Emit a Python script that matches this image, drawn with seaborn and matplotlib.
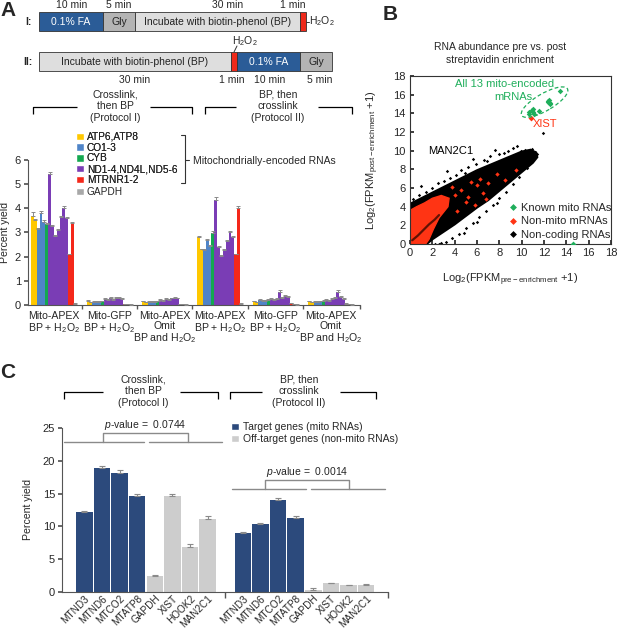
import matplotlib
matplotlib.use("Agg")
import numpy as np
import pandas as pd
import matplotlib.pyplot as plt
import seaborn as sns
from matplotlib.patches import Rectangle, Ellipse, Patch
from matplotlib.lines import Line2D

# ======================= DATA =======================
# ---- Panel A: percent yield per mito RNA, six conditions ----
a_rnas = ["ATP6", "ATP8", "CO1", "CO2", "CO3", "CYB", "ND1", "ND2", "ND3", "ND4",
          "ND4L", "ND5", "ND6", "MTRNR1", "MTRNR2", "GAPDH"]
a_families = ["ATP6,ATP8", "ATP6,ATP8", "CO1-3", "CO1-3", "CO1-3", "CYB"] + \
             ["ND1-4,ND4L,ND5-6"] * 7 + ["MTRNR1-2", "MTRNR1-2", "GAPDH"]
a_family_order = ["ATP6,ATP8", "CO1-3", "CYB", "ND1-4,ND4L,ND5-6", "MTRNR1-2", "GAPDH"]
a_conditions = ["Mito-APEX\nBP + H$_2$O$_2$", "Mito-GFP\nBP + H$_2$O$_2$",
                "Mito-APEX\nOmit\nBP and H$_2$O$_2$",
                "Mito-APEX\nBP + H$_2$O$_2$", "Mito-GFP\nBP + H$_2$O$_2$",
                "Mito-APEX\nOmit\nBP and H$_2$O$_2$"]
a_apex_I = [3.68, 3.50, 3.15, 3.80, 3.45, 3.35, 5.40, 3.28, 2.85, 3.10, 3.65, 4.00, 3.60, 2.10, 3.40, 0.05]
a_apex_I_err = [0.15, 0.04, 0.04, 0.07, 0.05, 0.05, 0.10, 0.03, 0.04, 0.06, 0.05, 0.08, 0.05, 0.02, 0.05, 0.02]
a_gfp_I = [0.16, 0.12, 0.14, 0.14, 0.14, 0.15, 0.26, 0.20, 0.30, 0.22, 0.28, 0.28, 0.24, 0.05, 0.04, 0.02]
a_gfp_I_err = [0.03, 0.02, 0.02, 0.02, 0.02, 0.03, 0.03, 0.03, 0.05, 0.03, 0.05, 0.04, 0.03, 0.01, 0.01, 0.01]
a_omit_I = [0.15, 0.12, 0.14, 0.13, 0.14, 0.15, 0.22, 0.18, 0.24, 0.20, 0.27, 0.30, 0.28, 0.04, 0.03, 0.02]
a_omit_I_err = [0.03, 0.02, 0.02, 0.02, 0.02, 0.02, 0.03, 0.02, 0.03, 0.03, 0.04, 0.04, 0.03, 0.01, 0.01, 0.01]
a_apex_II = [2.80, 2.30, 2.28, 2.70, 2.44, 2.97, 4.35, 2.41, 2.03, 2.28, 2.65, 3.00, 2.80, 2.11, 4.00, 0.05]
a_apex_II_err = [0.05, 0.02, 0.02, 0.05, 0.04, 0.08, 0.10, 0.02, 0.02, 0.03, 0.05, 0.06, 0.05, 0.02, 0.08, 0.02]
a_gfp_II = [0.15, 0.12, 0.20, 0.16, 0.18, 0.20, 0.24, 0.20, 0.26, 0.55, 0.30, 0.36, 0.32, 0.08, 0.05, 0.02]
a_gfp_II_err = [0.03, 0.02, 0.05, 0.03, 0.03, 0.04, 0.04, 0.03, 0.05, 0.07, 0.04, 0.07, 0.05, 0.02, 0.01, 0.01]
a_omit_II = [0.15, 0.12, 0.14, 0.13, 0.15, 0.18, 0.20, 0.16, 0.25, 0.30, 0.55, 0.32, 0.26, 0.06, 0.04, 0.02]
a_omit_II_err = [0.03, 0.02, 0.02, 0.02, 0.03, 0.03, 0.03, 0.03, 0.04, 0.05, 0.08, 0.05, 0.04, 0.01, 0.01, 0.01]
a_yticks = [0, 1, 2, 3, 4, 5, 6]

# ---- Panel B: scatter (log2 FPKM pre vs post enrichment) ----
b_mito_x = [13.45, 12.45, 12.35, 12.55, 12.50, 11.05, 10.95, 11.55, 10.70, 11.10, 10.65, 11.00, 12.40]
b_mito_y = [16.35, 15.45, 15.30, 15.15, 15.00, 14.50, 14.35, 14.25, 13.95, 13.95, 14.10, 14.15, 15.25]
b_mito_other_x = [14.6]
b_mito_other_y = [0.05]
b_xist_x = [10.85]
b_xist_y = [13.5]
# outline of the dense non-coding (black) cloud
b_cloud_x = [0.0, 0.0, 1.0, 2.0, 3.0, 4.0, 5.0, 6.0, 7.0, 8.0, 9.0, 10.0, 10.8, 11.3,
             11.4, 11.0, 10.0, 9.0, 8.0, 7.0, 6.0, 5.0, 4.0, 3.0, 2.0, 1.5]
b_cloud_y = [0.0, 4.3, 4.9, 5.5, 6.1, 6.7, 7.3, 7.9, 8.4, 8.9, 9.4, 9.9, 10.1, 9.8,
             9.3, 8.7, 7.7, 6.7, 5.7, 4.7, 3.9, 3.0, 2.1, 1.3, 0.5, 0.0]
# outline of the dense non-mito mRNA (red) cloud
b_red_x = [0.0, 0.0, 0.6, 1.3, 2.0, 2.8, 3.5, 3.4, 2.6, 2.1, 1.7, 1.4]
b_red_y = [0.0, 3.6, 4.0, 4.4, 4.9, 5.2, 4.9, 4.0, 2.8, 1.6, 0.5, 0.0]
# darker streak of non-coding RNAs through the red cloud
b_streak_x = [0.2, 0.7, 1.2, 1.7, 2.2, 2.6]
b_streak_y = [0.4, 0.9, 1.5, 2.1, 2.6, 3.1]
# individual non-coding points along the cloud edges
b_nc_x = [10.9, 10.3, 9.6, 9.2, 8.8, 11.2, 11.4, 11.1, 10.6, 8.0, 7.2, 6.6, 5.9, 5.2, 4.6, 4.1, 3.6,
          3.0, 2.5, 2.0, 1.4, 0.8, 0.3, 1.0, 3.3, 5.6, 7.6, 10.5, 9.8, 9.2, 8.6, 8.0, 7.4, 6.8,
          6.2, 5.6, 5.0, 4.4, 3.8, 3.2, 2.6, 7.8, 6.0, 4.8, 11.9, 9.9, 8.4, 6.9, 4.9, 2.8, 2.2]
b_nc_y = [10.2, 10.1, 10.5, 10.3, 10.0, 9.9, 9.6, 9.4, 9.7, 9.6, 9.4, 9.0, 8.6, 8.3, 7.9, 7.4, 7.1,
          6.8, 6.5, 6.0, 5.6, 5.2, 4.8, 6.2, 7.8, 9.1, 10.1, 8.1, 7.2, 6.4, 5.6, 4.9, 4.2, 3.5,
          2.9, 2.3, 1.7, 1.1, 0.6, 0.2, 0.05, 4.4, 2.4, 1.2, 11.9, 10.0, 9.7, 8.9, 7.6, 0.1, 0.0]
# individual non-mito mRNA points inside the black cloud
b_nm_x = [5.2, 6.0, 5.8, 6.5, 7.0, 4.6, 6.8, 5.5, 7.8, 4.2, 9.5, 3.8, 8.5, 5.0, 6.3, 4.0]
b_nm_y = [5.0, 6.3, 4.2, 5.5, 6.5, 5.8, 4.8, 6.6, 7.5, 3.5, 7.9, 6.1, 6.9, 4.5, 7.0, 5.2]
b_ticks = [0, 2, 4, 6, 8, 10, 12, 14, 16, 18]

# ---- Panel C: percent yield, target vs off-target genes ----
c_genes = ["MTND3", "MTND6", "MTCO2", "MTATP8", "GAPDH", "XIST", "HOOK2", "MAN2C1"]
c_kind = ["Target genes (mito RNAs)"] * 4 + ["Off-target genes (non-mito RNAs)"] * 4
c_protocol_I = [12.2, 18.9, 18.1, 14.6, 2.5, 14.7, 6.8, 11.2]
c_protocol_I_err = [0.15, 0.25, 0.55, 0.30, 0.15, 0.25, 0.50, 0.45]
c_protocol_II = [9.0, 10.3, 14.1, 11.3, 0.35, 1.3, 1.05, 1.1]
c_protocol_II_err = [0.08, 0.20, 0.25, 0.30, 0.25, 0.12, 0.08, 0.18]
c_pvalues = ["0.0744", "0.0014"]
c_yticks = [0, 5, 10, 15, 20, 25]

# ======================= STYLE =======================
sns.set_theme(style="ticks")
plt.rcParams["font.family"] = ["Liberation Sans", "DejaVu Sans"]
plt.rcParams["mathtext.fontset"] = "custom"
plt.rcParams["mathtext.rm"] = "Liberation Sans"
plt.rcParams["mathtext.it"] = "Liberation Sans:italic"
plt.rcParams["mathtext.bf"] = "Liberation Sans:bold"
plt.rcParams["axes.linewidth"] = 0.8

W, H = 617, 628
fig = plt.figure(figsize=(W / 100, H / 100), dpi=100)


def box(x0, y0, x1, y1):
    return [x0 / W, 1 - y1 / H, (x1 - x0) / W, (y1 - y0) / H]


fam_colors = {"ATP6,ATP8": "#ffc800", "CO1-3": "#4f84c8", "CYB": "#14a850",
              "ND1-4,ND4L,ND5-6": "#7a3db5", "MTRNR1-2": "#f4281a", "GAPDH": "#a8a8a8"}
navy, lgray = "#2c4a7c", "#cdcdcd"
axis_col = "#555555"

# ======================= PANEL A (bars) =======================
axA = fig.add_axes(box(28, 160, 360, 305))
GP = 19.5  # group pitch in bar units
a_vals = [a_apex_I, a_gfp_I, a_omit_I, a_apex_II, a_gfp_II, a_omit_II]
a_errs = [a_apex_I_err, a_gfp_I_err, a_omit_I_err, a_apex_II_err, a_gfp_II_err, a_omit_II_err]
rows = []
for g, (vals, errs) in enumerate(zip(a_vals, a_errs)):
    for j, rna in enumerate(a_rnas):
        rows.append(dict(pos=g * GP + j, value=vals[j], err=errs[j],
                         family=a_families[j], rna=rna, cond=g))
dfA = pd.DataFrame(rows)
sns.barplot(data=dfA, x="pos", y="value", hue="family", hue_order=a_family_order,
            palette=fam_colors, native_scale=True, dodge=False, width=1.0,
            errorbar=None, saturation=1, linewidth=0, legend=False, ax=axA)
axA.errorbar(dfA["pos"], dfA["value"], yerr=[np.zeros(len(dfA)), dfA["err"]],
             fmt="none", ecolor="#8a8a8a", elinewidth=0.7, capsize=1.4, capthick=0.7, zorder=3)
axA.set_xlim(-1.6, 5 * GP + 15.5 + 2.3)
axA.set_ylim(0, 6)
axA.set_yticks(a_yticks)
axA.set_xticks([g * GP + 7.5 for g in range(6)])
axA.set_xticklabels(a_conditions, fontsize=7.6, linespacing=1.05)
axA.set_xticks([g * GP + 17.25 for g in range(5)] + [5 * GP + 17.8], minor=True)
axA.tick_params(axis="x", which="major", length=0, pad=4)
axA.tick_params(axis="x", which="minor", length=3, direction="out", color=axis_col)
axA.tick_params(axis="y", labelsize=8, length=3, direction="out", color=axis_col, pad=2)
axA.set_xlabel("")
axA.set_ylabel("Percent yield", fontsize=7.6)
axA.yaxis.set_label_coords(-0.055, 0.5)
sns.despine(ax=axA)
for s in ["left", "bottom"]:
    axA.spines[s].set_color(axis_col)

legA = fig.legend(handles=[Patch(facecolor=fam_colors[f], label=f) for f in a_family_order[:5]],
                  loc="upper left", bbox_to_anchor=(76 / W, 1 - 132 / H), frameon=False,
                  fontsize=7.3, borderpad=0, borderaxespad=0, handlelength=0.75,
                  handleheight=0.75, handletextpad=0.3, labelspacing=0.07)
legA2 = fig.legend(handles=[Patch(facecolor=fam_colors["GAPDH"], label="GAPDH")],
                   loc="upper left", bbox_to_anchor=(76 / W, 1 - 187 / H), frameon=False,
                   fontsize=7.3, borderpad=0, borderaxespad=0, handlelength=0.75,
                   handleheight=0.75, handletextpad=0.3)
fig.add_artist(legA)

# ======================= PANEL B (scatter) =======================
axB = fig.add_axes(box(410, 76, 611, 244))
b_green, b_red = "#1fae5b", "#ff3414"
axB.fill(b_cloud_x, b_cloud_y, color="black", lw=1.5, zorder=1)
axB.fill(b_red_x, b_red_y, color=b_red, lw=1.0, zorder=2)
axB.plot(b_streak_x, b_streak_y, color="#3a0a00", lw=1.6, alpha=0.8, zorder=2.5)
sns.scatterplot(x=b_nc_x, y=b_nc_y, color="black", marker="D", s=3, linewidth=0, ax=axB, zorder=2)
sns.scatterplot(x=b_nm_x, y=b_nm_y, color=b_red, marker="D", s=5, linewidth=0, ax=axB, zorder=3)
sns.scatterplot(x=b_xist_x, y=b_xist_y, color=b_red, marker="D", s=9, linewidth=0, ax=axB, zorder=4)
sns.scatterplot(x=b_mito_x, y=b_mito_y, color=b_green, marker="D", s=8, linewidth=0, ax=axB, zorder=5)
sns.scatterplot(x=b_mito_other_x, y=b_mito_other_y, color=b_green, marker="D", s=9,
                linewidth=0, ax=axB, zorder=5)
axB.add_patch(Ellipse((12.05, 15.2), 5.0, 1.75, angle=36, fill=False, ls=(0, (3, 2)),
                      lw=0.9, edgecolor=b_green, zorder=6))
axB.text(8.45, 17.1, "All 13 mito-encoded", color=b_green, fontsize=8, ha="center", va="center")
axB.text(9.25, 15.8, "mRNAs", color=b_green, fontsize=8, ha="center", va="center")
axB.text(12.05, 12.9, "XIST", color=b_red, fontsize=8, ha="center", va="center")
axB.text(3.6, 10.0, "MAN2C1", color="black", fontsize=8, ha="center", va="center")
axB.set_xlim(0, 18)
axB.set_ylim(0, 18)
axB.set_xticks(b_ticks)
axB.set_yticks(b_ticks)
axB.tick_params(labelsize=8, direction="in", length=3, pad=3)
axB.set_xlabel("Log$_2$(FPKM$_{\\mathrm{pre-enrichment}}$ +1)", fontsize=8)
axB.set_ylabel("Log$_2$(FPKM$_{\\mathrm{post-enrichment}}$ +1)", fontsize=8)
axB.xaxis.set_label_coords(0.5, -0.165)
axB.yaxis.set_label_coords(-0.145, 0.5)
for s in axB.spines.values():
    s.set_color("#333333")
hB = [Line2D([], [], ls="none", marker="D", ms=3.5, mec="none", mfc=b_green, label="Known mito RNAs"),
      Line2D([], [], ls="none", marker="D", ms=3.5, mec="none", mfc=b_red, label="Non-mito mRNAs"),
      Line2D([], [], ls="none", marker="D", ms=3.5, mec="none", mfc="black", label="Non-coding RNAs")]
axB.legend(handles=hB, loc="lower left", bbox_to_anchor=(0.49, 0.025), frameon=False,
           fontsize=8, borderpad=0, borderaxespad=0, handlelength=0.8, handletextpad=0.3,
           labelspacing=0.3)
fig.text(500 / W, 1 - 53.5 / H, "RNA abundance pre vs. post\nstreptavidin enrichment",
         ha="center", va="center", fontsize=7.5, linespacing=1.3)

# ======================= PANEL C (bars) =======================
axC = fig.add_axes(box(62, 428, 388, 592))
rows = []
for j, gname in enumerate(c_genes):
    rows.append(dict(pos=j, value=c_protocol_I[j], err=c_protocol_I_err[j], kind=c_kind[j], gene=gname))
for j, gname in enumerate(c_genes):
    rows.append(dict(pos=9 + j, value=c_protocol_II[j], err=c_protocol_II_err[j], kind=c_kind[j], gene=gname))
dfC = pd.DataFrame(rows)
kind_order = ["Target genes (mito RNAs)", "Off-target genes (non-mito RNAs)"]
sns.barplot(data=dfC, x="pos", y="value", hue="kind", hue_order=kind_order,
            palette=[navy, lgray], native_scale=True, dodge=False, width=0.94,
            errorbar=None, saturation=1, linewidth=0, legend=False, ax=axC)
axC.errorbar(dfC["pos"], dfC["value"], yerr=[np.zeros(len(dfC)), dfC["err"]],
             fmt="none", ecolor="#8a8a8a", elinewidth=0.8, capsize=2.5, capthick=0.8, zorder=3)
axC.set_xlim(-1.27, 17.24)
axC.set_ylim(0, 25)
axC.set_yticks(c_yticks)
axC.set_xticks(dfC["pos"])
axC.set_xticklabels(dfC["gene"], rotation=45, ha="right", rotation_mode="anchor", fontsize=7.2)
axC.set_xticks([8, 17.24], minor=True)
axC.tick_params(axis="x", which="major", length=0, pad=1)
axC.tick_params(axis="x", which="minor", length=4, direction="out", color=axis_col)
axC.tick_params(axis="y", labelsize=8, length=3, direction="out", color=axis_col, pad=2)
axC.set_xlabel("")
axC.set_ylabel("Percent yield", fontsize=7.6)
axC.yaxis.set_label_coords(-0.089, 0.5)
sns.despine(ax=axC)
for s in ["left", "bottom"]:
    axC.spines[s].set_color(axis_col)

pcol = "#8a8a8a"
# p-value brackets
for (l1, l2, v1, v2, ylo, yhi, ytxt, pv) in [
        ((-1.16, 3.39), (3.67, 7.82), 1.06, 5.89, 22.8, 24.2, 25.5, c_pvalues[0]),
        ((8.39, 12.6), (12.88, 17.07), 10.26, 15.03, 15.7, 17.0, 18.3, c_pvalues[1])]:
    axC.plot(l1, [ylo, ylo], color=pcol, lw=1.0, clip_on=False)
    axC.plot(l2, [ylo, ylo], color=pcol, lw=1.0, clip_on=False)
    axC.plot([v1, v1, v2, v2], [ylo, yhi, yhi, ylo], color=pcol, lw=1.0, clip_on=False)
    axC.text((v1 + v2) / 2, ytxt, "$p$-value =  " + pv, ha="center", va="center", fontsize=7.5)

fig.legend(handles=[Patch(facecolor=navy, label=kind_order[0]),
                    Patch(facecolor=lgray, label=kind_order[1])],
           loc="upper left", bbox_to_anchor=(231 / W, 1 - 422 / H), frameon=False,
           fontsize=7.5, borderpad=0, borderaxespad=0, handlelength=0.75, handleheight=0.75,
           handletextpad=0.4, labelspacing=0.2)

# ======================= OVERLAY (timelines, brackets, labels) =======================
ov = fig.add_axes([0, 0, 1, 1])
ov.set_xlim(0, W)
ov.set_ylim(H, 0)
ov.axis("off")

tl_blue, tl_gly, tl_inc, tl_red = "#2b5c97", "#b4b4b4", "#dedede", "#ee2a1b"


def seg(x0, x1, y0, y1, color, label="", tcolor="#222222"):
    ov.add_patch(Rectangle((x0, y0), x1 - x0, y1 - y0, facecolor=color, edgecolor="#333333", lw=0.6))
    if label:
        ov.text((x0 + x1) / 2, (y0 + y1) / 2 + 0.5, label, ha="center", va="center",
                fontsize=7.5, color=tcolor)


# Protocol I timeline
seg(39, 103, 12, 31, tl_blue, "0.1% FA", "white")
seg(103, 135, 12, 31, tl_gly, "Gly")
seg(135, 300, 12, 31, tl_inc, "Incubate with biotin-phenol (BP)")
seg(300, 306, 12, 31, tl_red)
ov.plot([306, 309], [21.5, 21.5], color="#333333", lw=0.7)
ov.text(309, 21.5, "H$_2$O$_2$", ha="left", va="center", fontsize=7.5)
for x, t in [(72, "10 min"), (119, "5 min"), (228, "30 min"), (293, "1 min")]:
    ov.text(x, 5, t, ha="center", va="center", fontsize=7.5)
ov.text(28, 22, "I:", ha="center", va="center", fontsize=7.5, fontweight="bold")

# Protocol II timeline
seg(39, 231, 52, 71, tl_inc, "Incubate with biotin-phenol (BP)")
seg(231, 237, 52, 71, tl_red)
seg(237, 300, 52, 71, tl_blue, "0.1% FA", "white")
seg(300, 332, 52, 71, tl_gly, "Gly")
ov.plot([234, 237], [52, 46], color="#333333", lw=0.7)
ov.text(245, 41, "H$_2$O$_2$", ha="center", va="center", fontsize=7.5)
for x, t in [(135, "30 min"), (232, "1 min"), (270, "10 min"), (320, "5 min")]:
    ov.text(x, 80, t, ha="center", va="center", fontsize=7.5)
ov.text(28, 62, "II:", ha="center", va="center", fontsize=7.5, fontweight="bold")


def bracket(x0, x1, y, g0, g1, tick, lw=0.9, color="black"):
    ov.plot([x0, x0, g0], [y + tick, y, y], color=color, lw=lw, solid_capstyle="butt")
    ov.plot([g1, x1, x1], [y, y, y + tick], color=color, lw=lw, solid_capstyle="butt")


# Panel A protocol brackets
bracket(33, 192, 107, 77, 150, 7)
ov.text(115, 106, "Crosslink,\nthen BP\n(Protocol I)", ha="center", va="center", fontsize=7.5, linespacing=1.2)
bracket(205, 352, 107, 236, 318, 7)
ov.text(278, 106, "BP, then\ncrosslink\n(Protocol II)", ha="center", va="center", fontsize=7.5, linespacing=1.2)

# Mitochondrially-encoded brace
ov.plot([181, 185, 185, 181], [135, 135, 183, 183], color="#333333", lw=0.8)
ov.plot([185, 189], [160, 160], color="#333333", lw=0.8)
ov.text(193, 160.5, "Mitochondrially-encoded RNAs", ha="left", va="center", fontsize=7.5)

# Panel C protocol brackets
bracket(64, 218, 392, 103, 180, 7)
ov.text(143, 391, "Crosslink,\nthen BP\n(Protocol I)", ha="center", va="center", fontsize=7.5, linespacing=1.2)
bracket(230, 376, 392, 262, 340, 7)
ov.text(299, 391, "BP, then\ncrosslink\n(Protocol II)", ha="center", va="center", fontsize=7.5, linespacing=1.2)

# Panel letters
for x, y, t in [(8, 10, "A"), (390, 15, "B"), (8, 372, "C")]:
    ov.text(x, y, t, ha="center", va="center", fontsize=15, fontweight="bold")

fig.savefig("out.png", dpi=100)
